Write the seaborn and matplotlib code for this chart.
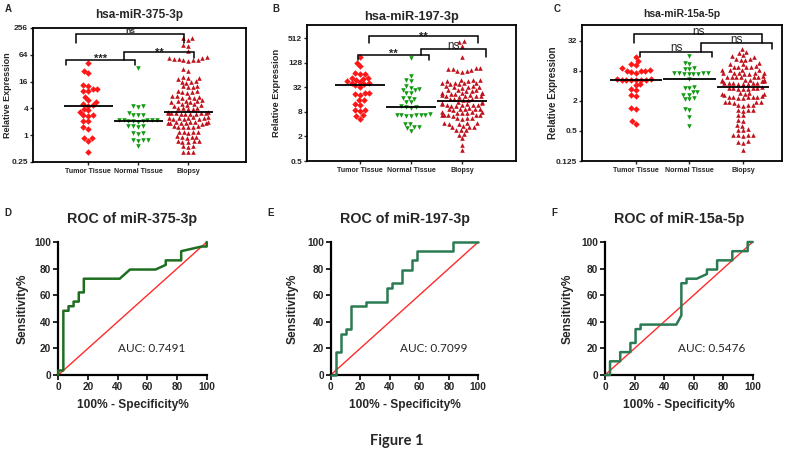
import numpy as np
import pandas as pd
import matplotlib
matplotlib.use('Agg')
import matplotlib.pyplot as plt
import seaborn as sns
import warnings
warnings.filterwarnings('ignore')

# ---------------- data ----------------
groups = ['Tumor Tissue', 'Normal Tissue', 'Biopsy']

a_tumor = [41.5, 24.7, 28.4, 12.8, 13.4, 9.85, 10.7, 10.7, 10.0, 7.3, 6.2, 5.6,
           5.0, 4.8, 4.6, 3.86, 3.6, 3.36, 2.9, 2.9, 2.7, 2.1, 2.1, 1.41, 1.49,
           0.86, 0.86, 0.74, 0.42]
a_normal = [33, 4.5, 4.3, 4.6, 3.2, 2.8, 2.8, 2.8, 2.2, 2.2, 2.1, 2.2, 2.1, 2.2,
            2.1, 2.0, 2.2, 1.6, 1.6, 1.55, 1.6, 1.1, 1.05, 1.1, 0.78, 0.77,
            0.78, 0.76, 0.56]
a_biopsy = [150, 140, 155, 100, 108, 76,
            52, 50, 48, 51, 49, 53, 47, 56, 54,
            30, 28,
            20, 19, 18, 19.5,
            16.5, 15.5, 16, 15,
            12.5, 12, 13, 12.2,
            9.8, 9.5, 9.2, 9.6, 9.0,
            7.5, 7.3, 7.0, 7.6, 7.2, 6.8,
            6.0, 5.9, 5.7, 6.1, 5.8, 5.5,
            4.9, 4.8, 4.7, 5.0, 4.6,
            4.1, 4.0, 3.9, 4.05, 3.8,
            3.3, 3.35,
            3.2, 3.1, 3.0, 3.15, 3.05, 3.1, 2.95, 3.2, 3.0,
            2.5, 2.4, 2.35, 2.45, 2.3, 2.4, 2.5, 2.3, 2.4,
            1.95, 1.9, 1.85, 2.0, 1.9, 1.8, 1.95, 1.9, 1.85, 2.0,
            1.6, 1.55, 1.5, 1.6, 1.5, 1.55,
            1.2, 1.15, 1.2, 1.1, 1.17,
            0.95, 0.92, 0.9, 0.93, 0.88,
            0.75, 0.73, 0.7, 0.74, 0.72,
            0.58, 0.57, 0.55,
            0.43, 0.42, 0.42]

b_tumor = [175, 129, 107, 72, 70, 68, 55, 54, 52, 50, 45, 43, 42, 40, 38, 36,
           33, 23, 22, 24, 21, 16, 15.5, 12.5, 12, 9, 8.5, 8.8, 6.6, 6.4, 5.5]
b_normal = [170, 60, 48, 46, 34, 31, 28, 27, 29, 23.6, 23, 17, 17.5, 18, 14.3,
            14, 10.6, 10.2, 11, 10.5, 6.7, 6.8, 6.5, 6.6, 6.9, 6.4, 7, 6.6,
            4.0, 4.1, 3.4, 3.3, 3.5, 2.8]
b_biopsy = [450, 420, 337, 181,
            98, 92, 95, 90,
            84, 80, 82, 78,
            50, 48, 46, 49, 47,
            41, 40, 39, 42, 38, 40,
            34, 33, 32, 35, 33, 31,
            28, 27, 26, 27.5, 26.5,
            23.5, 23, 22.5, 24, 22, 23,
            20.5, 20, 19.5, 20, 21, 19, 20,
            17, 16.5, 16, 16.8, 15.8,
            14.2, 13.8, 13.5, 13.2,
            12.2, 11.8, 11.5, 12, 11.6, 12.4, 11.2, 11.9,
            9.6, 9.4, 9.2, 9.8, 9.0, 9.5, 9.3,
            8.0, 7.8, 7.6, 7.9, 7.7, 7.5,
            6.8, 6.7, 6.6, 6.9, 6.5, 6.7,
            5.7, 5.6, 5.5, 5.8,
            4.3, 4.2, 4.1, 4.25, 4.15,
            3.5, 3.45, 3.6, 3.4,
            2.9, 2.95, 2.85,
            2.3, 2.2,
            1.8, 1.27, 0.91]

c_tumor = [15, 12.6, 11.3, 10.5, 9, 8.2, 8, 7.8, 8.1, 7.9, 7.4, 5.6, 5.4, 5.3,
           5.5, 5.3, 5.4, 5.2, 5.3, 4.2, 4.3, 3.5, 3.4, 2.5, 2.6, 1.46, 1.4,
           0.78, 0.68]
c_normal = [16, 11, 11.5, 8.9, 9.2, 8.6, 7.2, 7.0, 7.4, 7.3, 6.9, 7.1, 7.2, 7.0,
            5.6, 3.7, 3.8, 3.6, 3.0, 3.1, 2.7, 2.65, 2.2, 2.25, 2.15, 1.37,
            1.35, 0.96, 0.62]
c_biopsy = [22, 19.5, 18.5, 16.5, 16, 15.5, 14, 13.6, 13.2, 13.8,
            11.5, 11.2, 11,
            9.9, 9.7, 9.5, 9.8, 9.6,
            8.4, 8.3, 8.2, 8.5,
            7.3, 7.2, 7.1, 7.4, 7.0, 7.25, 7.15,
            6.2, 6.1, 6.0, 6.3, 5.95, 6.15, 6.05,
            5.3, 5.2, 5.1, 5.25, 5.15, 5.35, 5.05, 5.2,
            4.6, 4.5, 4.4, 4.55, 4.45, 4.65, 4.35, 4.5,
            3.7, 3.6, 3.5, 3.65, 3.55, 3.75, 3.45, 3.6,
            2.9, 2.8, 2.75, 2.85, 2.7, 2.8,
            2.45, 2.4, 2.35, 2.42, 2.38, 2.5, 2.3, 2.4,
            1.95, 1.9, 1.85, 1.92, 1.88,
            1.68, 1.65, 1.62, 1.66,
            1.32, 1.3, 1.28, 1.31,
            1.05, 1.03,
            0.83, 0.81,
            0.66, 0.64,
            0.54, 0.53, 0.52,
            0.42, 0.41, 0.4, 0.41, 0.42,
            0.31, 0.3, 0.29,
            0.21]

scatter_titles = ['hsa-miR-375-3p', 'hsa-miR-197-3p', 'hsa-miR-15a-5p']
a_ticks = [0.25, 1, 4, 16, 64, 256]
a_ticklabels = ['0.25', '1', '4', '16', '64', '256']
b_ticks = [0.5, 2, 8, 32, 128, 512]
b_ticklabels = ['0.5', '2', '8', '32', '128', '512']
c_ticks = [0.125, 0.5, 2, 8, 32]
c_ticklabels = ['0.125', '0.5', '2', '8', '32']

roc_d_fpr = [0, 0, 3.4, 3.4, 6.9, 6.9, 10.3, 10.3, 13.8, 13.8, 17.2, 17.2, 41.4,
             48.3, 65.5, 72.4, 72.4, 82.8, 82.8, 96.6, 100, 100]
roc_d_tpr = [0, 3.4, 3.4, 48.3, 48.3, 51.7, 51.7, 55.2, 55.2, 62.1, 62.1, 72.4,
             72.4, 79.3, 79.3, 82.8, 86.2, 86.2, 93.1, 96.6, 96.6, 100]
roc_e_fpr = [0, 3.4, 3.4, 6.9, 6.9, 10.3, 10.3, 13.8, 13.8, 24.1, 24.1, 37.9,
             37.9, 41.4, 41.4, 48.3, 48.3, 55.2, 55.2, 58.6, 58.6, 82.8, 82.8, 100]
roc_e_tpr = [0, 0, 17.2, 17.2, 31.0, 31.0, 34.5, 34.5, 51.7, 51.7, 55.2, 55.2,
             65.5, 65.5, 69.0, 69.0, 79.3, 79.3, 86.2, 86.2, 93.1, 93.1, 100, 100]
roc_f_fpr = [0, 3.4, 3.4, 10.3, 10.3, 17.2, 17.2, 20.7, 20.7, 24.1, 24.1, 48.3,
             51.7, 51.7, 55.2, 55.2, 62.1, 69.0, 69.0, 75.9, 75.9, 86.2, 86.2,
             96.6, 96.6, 100]
roc_f_tpr = [0, 0, 10.3, 10.3, 17.2, 17.2, 24.1, 24.1, 34.5, 34.5, 37.9, 37.9,
             44.8, 69.0, 69.0, 72.4, 72.4, 75.9, 79.3, 79.3, 86.2, 86.2, 93.1,
             93.1, 100, 100]
roc_titles = ['ROC of miR-375-3p', 'ROC of miR-197-3p', 'ROC of miR-15a-5p']
auc_labels = ['AUC: 0.7491', 'AUC: 0.7099', 'AUC: 0.5476']
roc_ticks = [0, 20, 40, 60, 80, 100]
diag = [0, 100]

# ---------------- style ----------------
sns.set_theme(style='ticks')
plt.rcParams['font.family'] = ['Liberation Sans', 'DejaVu Sans']
plt.rcParams['axes.edgecolor'] = 'black'

W, H = 798, 450
fig = plt.figure(figsize=(W / 100, H / 100), dpi=100)
fig.patch.set_facecolor('white')


def axes_px(l, t, r, b):
    return fig.add_axes([l / W, 1 - b / H, (r - l) / W, (b - t) / H])


markers = ['D', 'v', '^']
colors = ['#ff1616', '#139a13', '#c0121c']


def bracket(ax, x1, x2, ytop, yl, yr, label, fs, weight, dy):
    ax.plot([x1, x1, x2, x2], [yl, ytop, ytop, yr], color='black', lw=1.1,
            clip_on=False, solid_joinstyle='miter', zorder=6)
    ax.annotate(label, xy=((x1 + x2) / 2, ytop), xytext=(0, dy),
                textcoords='offset points', ha='center', va='center',
                fontsize=fs, fontweight=weight, annotation_clip=False)


def scatter_panel(ax, data, ylim, ticks, ticklabels, xlim, title, title_y,
                  title_fs, ylab_x, ylab_fs):
    ax.set_yscale('log', base=2)
    df = pd.DataFrame({'group': np.repeat(groups, [len(d) for d in data]),
                       'value': np.concatenate(data)})
    for g, m, c in zip(groups, markers, colors):
        sns.swarmplot(data=df[df['group'] == g], x='group', y='value',
                      order=groups, marker=m, color=c, size=3.3, linewidth=0,
                      ax=ax, zorder=3)
    for i, d in enumerate(data):
        ax.hlines(np.median(d), i - 0.49, i + 0.49, color='black', lw=1.3,
                  zorder=5)
    ax.set_yscale('log', base=2)
    ax.set_ylim(*ylim)
    ax.set_yticks(ticks)
    ax.set_yticklabels(ticklabels)
    ax.minorticks_off()
    ax.set_xlim(*xlim)
    ax.set_xticks(range(3))
    ax.set_xticklabels(groups)
    for s in ax.spines.values():
        s.set_visible(True)
        s.set_linewidth(1.3)
        s.set_color('black')
    ax.tick_params(axis='y', direction='out', length=2.5, width=1, pad=1,
                   labelsize=6)
    ax.tick_params(axis='x', direction='out', length=2.5, width=1, pad=1.5,
                   labelsize=5.1)
    for lab in ax.get_xticklabels() + ax.get_yticklabels():
        lab.set_fontweight('bold')
    ax.set_xlabel('')
    ax.set_ylabel('Relative Expression', fontsize=ylab_fs, fontweight='bold')
    ax.yaxis.set_label_coords(ylab_x, 0.5)
    ax.text(0.5, title_y, title, transform=ax.transAxes, ha='center',
            va='center', fontsize=title_fs, fontweight='bold')


# Panel A
axA = axes_px(33, 28, 246, 162)
scatter_panel(axA, [a_tumor, a_normal, a_biopsy], (0.25, 256), a_ticks,
              a_ticklabels, (-1.1, 3.16), scatter_titles[0], 1.097, 8.5,
              -0.10, 6.5)
bracket(axA, -0.24, 1.92, 191, 118, 118, 'ns', 6, 'bold', 1.5)
bracket(axA, -0.44, 0.94, 49.6, 38, 38, '***', 8, 'bold', 0.5)
bracket(axA, 0.72, 2.12, 73.5, 49.6, 54, '**', 8, 'bold', -0.3)

# Panel B
axB = axes_px(307, 25, 516, 161)
scatter_panel(axB, [b_tumor, b_normal, b_biopsy], (0.5, 1090), b_ticks,
              b_ticklabels, (-1.04, 3.06), scatter_titles[1], 1.061, 9.2,
              -0.125, 6.7)
bracket(axB, 0.18, 2.31, 597, 386, 386, '**', 8, 'bold', -0.8)
bracket(axB, -0.04, 1.35, 200, 150, 150, '**', 8, 'bold', 0.8)
bracket(axB, 1.2, 2.47, 275, 200, 181, 'ns', 8.4, 'normal', 2.4)

# Panel C
axC = axes_px(582, 25, 782, 161)
scatter_panel(axC, [c_tumor, c_normal, c_biopsy], (0.125, 67), c_ticks,
              c_ticklabels, (-1.01, 2.73), scatter_titles[2], 1.081, 7.5,
              -0.12, 7)
bracket(axC, -0.04, 2.36, 43.4, 29.4, 29.4, 'ns', 8.4, 'normal', 2.0)
bracket(axC, 0.08, 1.43, 19.4, 15.5, 15.5, 'ns', 8.4, 'normal', 3.0)
bracket(axC, 1.21, 2.55, 28.6, 19.4, 21.7, 'ns', 8.4, 'normal', 2.4)


# ---------------- ROC panels ----------------
def roc_panel(ax, fpr, tpr, col, title, auc, auc_x, ylab_x):
    ax.plot(diag, diag, color='#ff2b2b', lw=1.0, clip_on=False, zorder=2)
    sns.lineplot(x=fpr, y=tpr, sort=False, estimator=None, color=col,
                 lw=1.8, ax=ax, zorder=3, clip_on=False)
    ax.set_xlim(0, 100)
    ax.set_ylim(0, 100)
    ax.set_xticks(roc_ticks)
    ax.set_yticks(roc_ticks)
    for s in ['top', 'right']:
        ax.spines[s].set_visible(False)
    for s in ['left', 'bottom']:
        ax.spines[s].set_linewidth(1.6)
        ax.spines[s].set_color('black')
    ax.tick_params(direction='out', length=3.5, width=1.4, pad=1.5,
                   labelsize=7.3)
    for lab in ax.get_xticklabels() + ax.get_yticklabels():
        lab.set_fontweight('bold')
    ax.set_xlabel('100% - Specificity%', fontsize=8.6, fontweight='bold')
    ax.xaxis.set_label_coords(0.5, -0.226)
    ax.xaxis.label.set_va('center')
    ax.set_ylabel('Sensitivity%', fontsize=8.6, fontweight='bold')
    ax.yaxis.set_label_coords(ylab_x, 0.5)
    ax.yaxis.label.set_va('center')
    ax.text(0.5, 1.173, title, transform=ax.transAxes, ha='center',
            va='center', fontsize=10.3, fontweight='bold')
    ax.text(auc_x, 20, auc, ha='center', va='center', fontsize=8.5,
            family=['Lato', 'DejaVu Sans'])


axD = axes_px(58.3, 242, 206.7, 375)
roc_panel(axD, roc_d_fpr, roc_d_tpr, '#1f6e1f', roc_titles[0], auc_labels[0],
          63, -0.24)
axE = axes_px(330.7, 242, 478.3, 375)
roc_panel(axE, roc_e_fpr, roc_e_tpr, '#2a7a52', roc_titles[1], auc_labels[1],
          70, -0.255)
axF = axes_px(605, 242, 752.7, 375)
roc_panel(axF, roc_f_fpr, roc_f_tpr, '#2a7a52', roc_titles[2], auc_labels[2],
          72.5, -0.25)

# panel letters
for letter, x, y in [('A', 8, 8.5), ('B', 276, 8.5), ('C', 557, 8.5),
                     ('D', 8, 213), ('E', 271, 213), ('F', 554, 213)]:
    fig.text(x / W, 1 - y / H, letter, ha='center', va='center', fontsize=7,
             fontweight='bold')

fig.text(397 / W, 1 - 441 / H, 'Figure 1', ha='center', va='center',
         fontsize=10.5, fontweight='bold', family=['Lato', 'DejaVu Sans'])

fig.savefig('out.png', dpi=100, facecolor='white')
